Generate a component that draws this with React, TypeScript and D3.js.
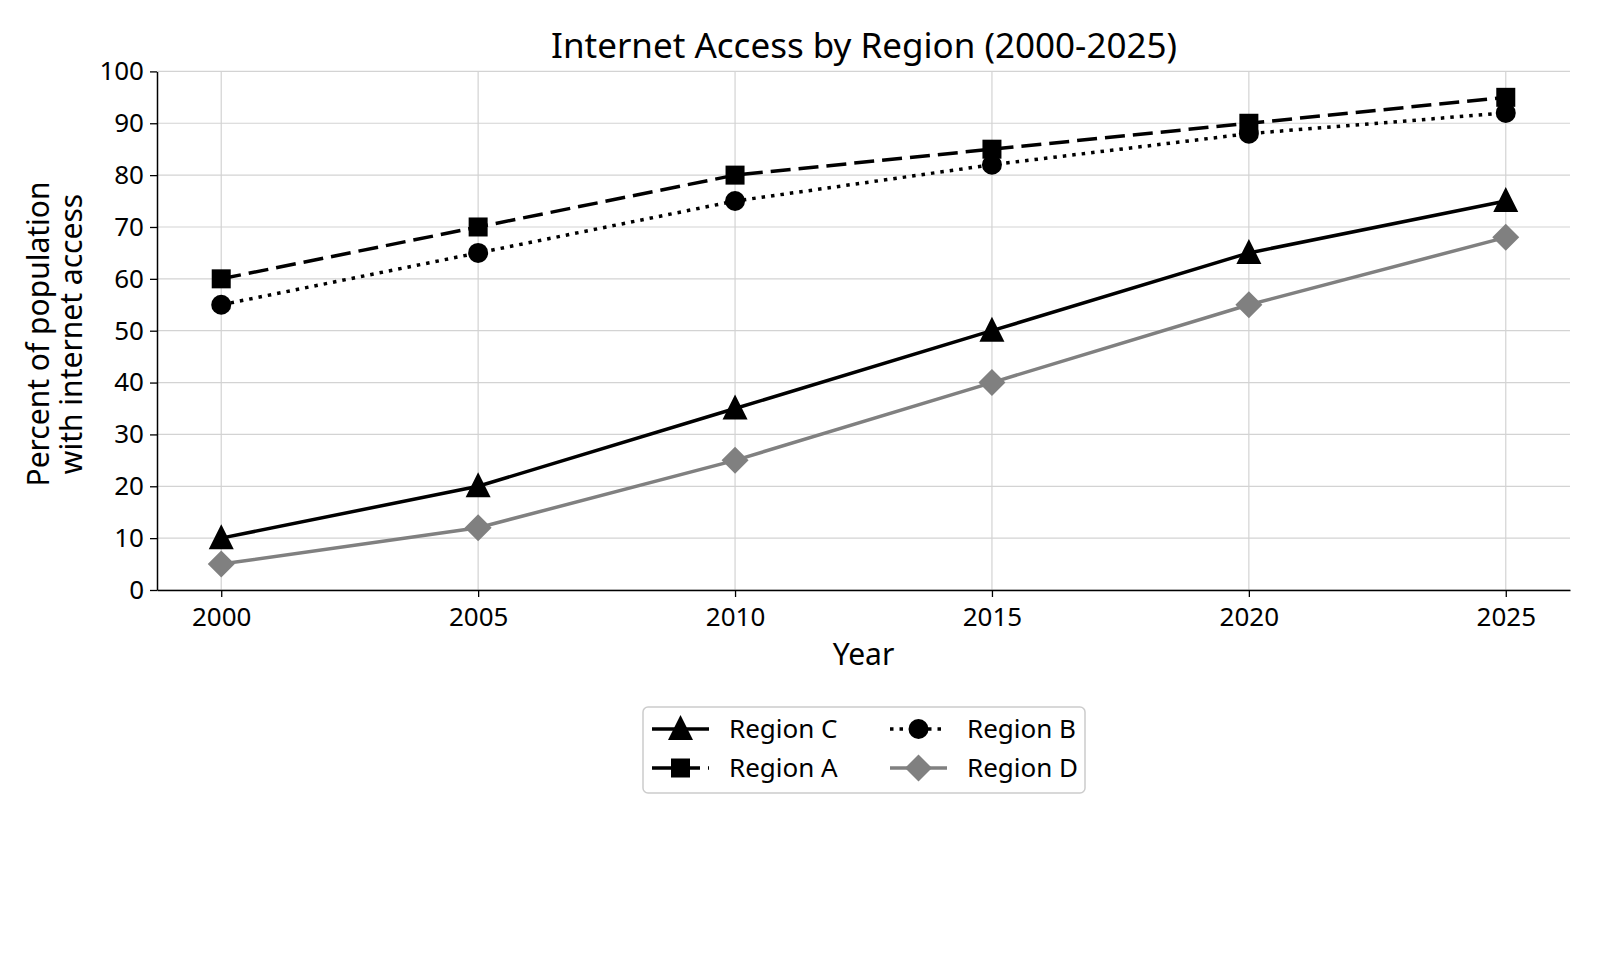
import React, { useEffect, useRef } from 'react';
import * as d3 from 'd3';

const years = [2000, 2005, 2010, 2015, 2020, 2025];
const regionA = [60, 70, 80, 85, 90, 95];
const regionB = [55, 65, 75, 82, 88, 92];
const regionC = [10, 20, 35, 50, 65, 75];
const regionD = [5, 12, 25, 40, 55, 68];
const yTicks = [0, 10, 20, 30, 40, 50, 60, 70, 80, 90, 100];

const FONT = '"Noto Sans", sans-serif';

type Series = {
  name: string;
  values: number[];
  color: string;
  dash: string | null;
  marker: 'triangle' | 'square' | 'circle' | 'diamond';
};

const series: Series[] = [
  { name: 'Region A', values: regionA, color: '#000', dash: '20,8', marker: 'square' },
  { name: 'Region B', values: regionB, color: '#000', dash: '3.5,6', marker: 'circle' },
  { name: 'Region C', values: regionC, color: '#000', dash: null, marker: 'triangle' },
  { name: 'Region D', values: regionD, color: '#808080', dash: null, marker: 'diamond' },
];

// legend is filled column-wise
const legendOrder = ['Region C', 'Region A', 'Region B', 'Region D'];

function drawMarker(g: any, kind: string, x: number, y: number, color: string) {
  if (kind === 'square') {
    g.append('rect').attr('x', x - 9.5).attr('y', y - 9.5).attr('width', 19).attr('height', 19).attr('fill', color);
  } else if (kind === 'circle') {
    g.append('circle').attr('cx', x).attr('cy', y).attr('r', 10).attr('fill', color);
  } else if (kind === 'triangle') {
    g.append('path')
      .attr('d', `M${x},${y - 14} L${x + 12.5},${y + 11} L${x - 12.5},${y + 11} Z`)
      .attr('fill', color);
  } else {
    g.append('path')
      .attr('d', `M${x},${y - 13.5} L${x + 13.5},${y} L${x},${y + 13.5} L${x - 13.5},${y} Z`)
      .attr('fill', color);
  }
}

export default function App() {
  const ref = useRef<SVGSVGElement>(null);

  useEffect(() => {
    const svg = d3.select(ref.current);
    svg.selectAll('*').remove();

    const left = 157, right = 1570, top = 71.4, bottom = 590;

    const x = d3.scaleLinear().domain([1998.75, 2026.25]).range([left, right]);
    const y = d3.scaleLinear().domain([0, 100]).range([bottom, top]);

    svg.append('rect').attr('width', 1600).attr('height', 960).attr('fill', '#fff');

    // grid
    const grid = svg.append('g');
    grid.selectAll('line.gy').data(yTicks).enter().append('line')
      .attr('x1', left).attr('x2', right)
      .attr('y1', d => y(d)).attr('y2', d => y(d))
      .attr('stroke', '#d3d3d3').attr('stroke-width', 1.2);
    grid.selectAll('line.gx').data(years).enter().append('line')
      .attr('x1', d => x(d)).attr('x2', d => x(d))
      .attr('y1', top).attr('y2', bottom)
      .attr('stroke', '#d3d3d3').attr('stroke-width', 1.2);

    // axes
    const xAxis = svg.append('g')
      .attr('transform', `translate(0,${bottom})`)
      .call(d3.axisBottom(x).tickValues(years).tickFormat(d3.format('d')).tickSize(7).tickSizeOuter(0).tickPadding(11));
    const yAxis = svg.append('g')
      .attr('transform', `translate(${left},0)`)
      .call(d3.axisLeft(y).tickValues(yTicks).tickSize(7).tickSizeOuter(0).tickPadding(6));
    [xAxis, yAxis].forEach(a => {
      a.selectAll('text').attr('font-family', FONT).attr('font-size', 26).attr('fill', '#000');
      a.selectAll('line').attr('stroke', '#000').attr('stroke-width', 1.3);
      a.select('.domain').attr('stroke', '#000').attr('stroke-width', 1.5);
    });

    // lines
    const line = d3.line<number>().x((d, i) => x(years[i])).y(d => y(d));
    series.forEach(s => {
      const g = svg.append('g');
      g.append('path')
        .attr('d', line(s.values))
        .attr('fill', 'none')
        .attr('stroke', s.color)
        .attr('stroke-width', 3.5)
        .attr('stroke-dasharray', s.dash)
        .attr('stroke-linecap', 'butt');
      s.values.forEach((v, i) => drawMarker(g, s.marker, x(years[i]), y(v), s.color));
    });

    // title & labels
    svg.append('text').attr('x', 864).attr('y', 58).attr('text-anchor', 'middle')
      .attr('font-family', FONT).attr('font-size', 35).text('Internet Access by Region (2000-2025)');
    svg.append('text').attr('x', (left + right) / 2).attr('y', 665).attr('text-anchor', 'middle')
      .attr('font-family', FONT).attr('font-size', 30).text('Year');
    const yl = svg.append('text').attr('transform', `translate(49,334) rotate(-90)`)
      .attr('text-anchor', 'middle').attr('font-family', FONT).attr('font-size', 30);
    yl.append('tspan').attr('x', 0).attr('dy', 0).text('Percent of population');
    yl.append('tspan').attr('x', 0).attr('dy', 33).text('with internet access');

    // legend
    const lg = svg.append('g');
    lg.append('rect').attr('x', 643).attr('y', 707).attr('width', 442).attr('height', 86)
      .attr('rx', 5).attr('fill', '#fff').attr('stroke', '#ccc').attr('stroke-width', 1.5);
    legendOrder.forEach((name, k) => {
      const s = series.find(d => d.name === name)!;
      const col = Math.floor(k / 2), row = k % 2;
      const hx = col === 0 ? 652 : 890;
      const cy = row === 0 ? 729 : 768;
      lg.append('line').attr('x1', hx).attr('x2', hx + 57).attr('y1', cy).attr('y2', cy)
        .attr('stroke', s.color).attr('stroke-width', 3.5).attr('stroke-dasharray', s.dash);
      drawMarker(lg, s.marker, hx + 28.5, cy, s.color);
      lg.append('text').attr('x', hx + 77).attr('y', cy + 9).attr('font-family', FONT)
        .attr('font-size', 26).text(name);
    });
  }, []);

  return <svg ref={ref} width={1600} height={960} style={{ display: 'block', margin: '-8px' }} />;
}
